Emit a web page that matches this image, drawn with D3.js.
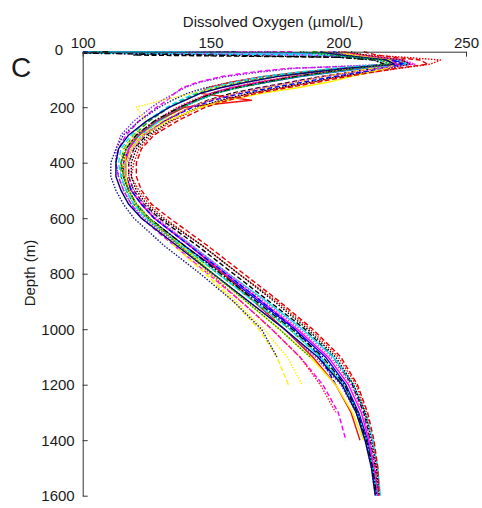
<!DOCTYPE html>
<html>
<head>
<meta charset="utf-8">
<script src="https://cdn.jsdelivr.net/npm/d3@7"></script>
<style>
  html, body { margin: 0; padding: 0; background: #fff; }
  svg { display: block; }
  text { font-family: "Liberation Sans", Arial, sans-serif; fill: #1a1a1a; }
</style>
</head>
<body>
<svg id="chart" width="482" height="508"></svg>
<script>
// Sampling depths (m) shared by every cast; shorter casts stop early.
const depths = [0, 5, 12, 20, 30, 45, 60, 75, 90, 110, 130, 150, 175, 200, 250, 300, 350,
                400, 450, 500, 550, 600, 700, 800, 900, 1000, 1100, 1200, 1300, 1400, 1500, 1600];

// Dissolved oxygen (µmol/L) for each CTD cast, aligned with depths.
const cast01 = [200, 204, 211, 226, 240, 236, 224, 212, 201, 190, 178, 166, 155, 146, 135, 127, 122, 120, 119, 122, 126, 132, 147, 161, 176, 189, 200, 207, 211, 213.5, 215, 215.8];
const cast02 = [182, 100, 190, 212, 224, 229, 180, 165, 154, 145, 139, 136, 133, 129, 122, 117, 114, 113, 114, 116, 119, 123, 136, 149, 162, 174, 185, 194, 200, 203];
const cast03 = [100, 196, 203, 212, 222, 226, 210, 197, 185, 172, 160, 152, 145, 139, 129, 122, 118, 116, 116, 118, 121, 126, 140, 155, 169, 183, 195, 203, 208, 211.5, 213.5, 215];
const cast04 = [160, 130, 120, 200, 218, 224, 214, 204, 193, 181, 169, 158, 149, 142, 132, 125, 120, 118, 118, 120, 124, 130, 145, 159, 173, 187, 198, 205.5, 210, 212.5, 214.5, 215.5];
const cast05 = [102, 198, 205, 214, 224, 227, 209, 196, 184, 171, 160, 152, 145, 139, 130, 123, 119, 117, 117, 119, 123, 128, 143, 157, 172, 186, 198, 206, 210.5, 213.5, 215.5, 216.5];
const cast06 = [190, 196, 200, 208, 216, 219, 213, 204, 194, 184, 172, 160, 150, 142, 131, 123, 118, 116, 116, 118, 121, 125, 136, 148, 159, 169, 176, 180.5];
const cast07 = [185, 190, 196, 205, 214, 218, 202, 186, 171, 158, 148, 141, 135, 130, 122, 116, 113, 111, 111, 113, 116, 120, 132, 146, 159, 170, 176];
const cast08 = [202, 205, 209, 216, 226, 224, 200, 184, 170, 158, 149, 146, 166, 140, 129, 122, 118, 117, 117, 119, 123, 128, 142, 155, 167, 179, 190, 199, 205, 208.5];
const cast09 = [196, 199, 203, 211, 220, 223, 207, 194, 182, 169, 158, 150, 144, 138, 129, 122, 118, 117, 117, 119, 123, 128, 142, 156, 170, 184, 196, 204, 209, 212, 214, 215.5];
const cast10 = [190, 195, 200, 209, 219, 221, 201, 187, 174, 162, 152, 145, 139, 134, 126, 120, 116, 115, 115, 117, 120, 125, 139, 153, 167, 181, 193, 202, 207.5, 211, 213.5, 215];
const cast11 = [205, 207, 210, 216, 225, 228, 220, 210, 200, 189, 177, 165, 154, 145, 134, 126, 121, 119, 119, 121, 125, 131, 147, 161, 175, 188, 199, 206, 210.5, 213, 215, 216];
const cast12 = [175, 100, 186, 205, 216, 220, 183, 168, 156, 146, 140, 136, 131, 127, 120, 115, 113, 113, 114, 116, 119, 124, 138, 151, 165, 179, 191, 201, 207, 210.5, 213, 214.5];
const cast13 = [200, 203, 206, 212, 221, 222, 206, 193, 181, 168, 158, 150, 143, 137, 128, 121, 117, 116, 116, 118, 121, 126, 138, 150, 162, 174, 185, 193, 199];
const cast14 = [198, 200, 204, 211, 221, 225, 218, 208, 198, 186, 174, 162, 151, 143, 132, 124, 119, 117, 117, 119, 123, 128, 142, 156, 170, 183, 193, 199];
const cast15 = [200, 202, 206, 212, 220, 222, 219, 212, 205, 196, 184, 170, 157, 146, 133, 124, 119, 117, 117, 118, 121, 126, 139, 151, 164, 177, 189, 199, 205.5, 210];
const cast16 = [140, 100, 195, 206, 216, 219, 198, 183, 170, 159, 150, 144, 138, 133, 125, 119, 115, 114, 115, 117, 120, 125, 139, 153, 167, 181, 193, 202, 207.5, 211, 213.5, 215];
const cast17 = [210, 212, 215, 222, 232, 235, 223, 213, 203, 192, 180, 168, 157, 148, 137, 128, 123, 121, 121, 123, 127, 134, 149, 163, 177, 190, 201, 207.5, 211.5, 214, 215.5, 216];
const cast18 = [110, 98, 150, 200, 214, 218, 206, 194, 183, 171, 160, 151, 144, 138, 128, 121, 117, 115, 116, 118, 121, 126, 140, 154, 168, 182, 194, 202.5, 207.5, 211, 213.5, 215];
const cast19 = [195, 198, 203, 210, 218, 219, 205, 190, 176, 163, 152, 143, 131, 121, 125, 120, 116, 115, 116, 118, 121, 126, 138, 149, 160, 171, 180, 186];
const cast20 = [200, 204, 208, 216, 226, 230, 216, 205, 194, 182, 170, 160, 150, 142, 132, 124, 120, 118, 118, 120, 124, 129, 143, 157, 171, 185, 197, 205, 209.5, 212.5, 214.5, 215.5];
const cast21 = [193, 196, 201, 209, 219, 222, 203, 189, 176, 164, 154, 146, 140, 134, 125, 118, 114, 113, 113, 115, 118, 123, 137, 151, 165, 179, 192, 201.5, 207, 210.5, 213, 214.5];
const cast22 = [185, 190, 198, 207, 217, 220, 208, 196, 184, 172, 161, 152, 145, 139, 129, 122, 117, 115, 116, 118, 121, 126, 138, 151, 164, 177, 189];

const casts = [cast01, cast02, cast03, cast04, cast05, cast06, cast07, cast08, cast09, cast10, cast11,
               cast12, cast13, cast14, cast15, cast16, cast17, cast18, cast19, cast20, cast21, cast22];

// Line styling per cast
const castColors = ["#ff0000", "#ff00ff", "#0000ff", "#000000", "#00e5ff", "#ffee00", "#1a1a80", "#ee1111",
                    "#ff00ff", "#00a000", "#000000", "#8a2be2", "#ff2020", "#0000ff", "#ffee00", "#00e5ff",
                    "#e00000", "#000000", "#ffee00", "#ff22cc", "#000080", "#00a000"];
const castDashes = ["1.5,1.5", "5,2.5", null, "5,2.5", null, "5,2.5", "1.5,1.5", null,
                    null, "5,2.5", "1.5,1.5", "1.5,1.5", "1.5,1.5", "5,2.5", null, "5,2.5",
                    "5,2.5", "6,2,1.5,2", "1.5,1.5", "1.5,1.5", null, "1.5,1.5"];

const xTicks = [100, 150, 200, 250];
const yTicks = [0, 200, 400, 600, 800, 1000, 1200, 1400, 1600];

const svg = d3.select("#chart");
const plotLeft = 82.7, plotRight = 466, plotTop = 51.7, plotBottom = 495.7;

const x = d3.scaleLinear().domain([100, 250]).range([plotLeft, plotRight]);
const y = d3.scaleLinear().domain([0, 1600]).range([plotTop, plotBottom]);

svg.append("defs").append("clipPath").attr("id", "plotClip")
  .append("rect").attr("x", plotLeft).attr("y", plotTop - 3)
  .attr("width", plotRight - plotLeft + 10).attr("height", plotBottom - plotTop + 6);

const line = d3.line()
  .x(d => x(d[0]))
  .y(d => y(d[1]));

const g = svg.append("g").attr("clip-path", "url(#plotClip)");
casts.forEach((vals, i) => {
  const pts = vals.map((v, k) => [v, depths[k]]);
  g.append("path")
    .datum(pts)
    .attr("d", line)
    .attr("fill", "none")
    .attr("stroke", castColors[i])
    .attr("stroke-width", 1.4)
    .attr("stroke-dasharray", castDashes[i])
    .attr("stroke-linejoin", "round");
});

// Top x axis, ticks pointing into the plot
const xAxis = svg.append("g")
  .attr("transform", `translate(0,${plotTop})`)
  .call(d3.axisTop(x).tickValues(xTicks).tickFormat(d3.format("d"))
    .tickSizeInner(-5).tickSizeOuter(0).tickPadding(3.5));

// Left y axis, ticks pointing into the plot
const yAxis = svg.append("g")
  .attr("transform", `translate(${plotLeft},0)`)
  .call(d3.axisLeft(y).tickValues(yTicks).tickFormat(d3.format("d"))
    .tickSizeInner(-5).tickSizeOuter(0).tickPadding(8));

[xAxis, yAxis].forEach(ax => {
  ax.selectAll("text").style("font-size", "15px").style("font-family", "'Liberation Sans', Arial, sans-serif").attr("fill", "#1a1a1a");
  ax.select(".domain").attr("stroke", "#333").attr("stroke-width", 1);
  ax.selectAll(".tick line").attr("stroke", "#333");
});

// The 0 depth label sits clear of the 100 label
yAxis.selectAll(".tick").filter(d => d === 0).select("text")
  .attr("x", -19.5).attr("y", -2.5);

svg.append("text")
  .attr("x", 273).attr("y", 27)
  .attr("text-anchor", "middle")
  .style("font-size", "15px")
  .text("Dissolved Oxygen (µmol/L)");

svg.append("text")
  .attr("transform", `translate(35,273) rotate(-90)`)
  .attr("text-anchor", "middle")
  .style("font-size", "15px")
  .text("Depth (m)");

svg.append("text")
  .attr("x", 11).attr("y", 77)
  .style("font-size", "28px")
  .text("C");
</script>
</body>
</html>
